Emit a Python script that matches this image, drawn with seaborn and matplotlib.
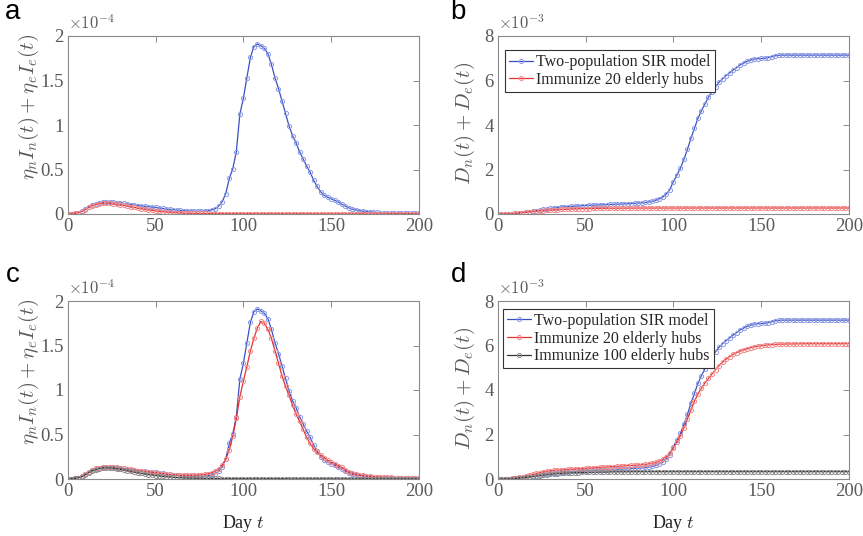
import numpy as np
import matplotlib
matplotlib.use('Agg')
import matplotlib.pyplot as plt
from matplotlib.ticker import FuncFormatter
import seaborn as sns

days = np.arange(0, 201, 2)

# eta_n I_n(t) + eta_e I_e(t), in units of 1e-4
infect_sir = [
    0.005, 0.005, 0.008, 0.015, 0.030, 0.055, 0.080, 0.100, 0.115, 0.125,
    0.132, 0.135, 0.135, 0.132, 0.128, 0.124, 0.118, 0.112, 0.106, 0.100,
    0.095, 0.090, 0.086, 0.082, 0.078, 0.074, 0.068, 0.062, 0.056, 0.052,
    0.048, 0.044, 0.040, 0.037, 0.035, 0.033, 0.032, 0.031, 0.031, 0.033,
    0.038, 0.046, 0.060, 0.090, 0.140, 0.230, 0.400, 0.510, 0.700, 1.120,
    1.300, 1.530, 1.760, 1.880, 1.910, 1.890, 1.860, 1.800, 1.680, 1.530,
    1.410, 1.270, 1.130, 0.990, 0.880, 0.800, 0.700, 0.620, 0.540, 0.470,
    0.380, 0.310, 0.250, 0.210, 0.190, 0.170, 0.155, 0.135, 0.110, 0.090,
    0.070, 0.055, 0.045, 0.038, 0.032, 0.028, 0.024, 0.020, 0.017, 0.015,
    0.013, 0.012, 0.011, 0.010, 0.009, 0.008, 0.008, 0.007, 0.007, 0.006,
    0.006]
infect_imm20_a = [
    0.005, 0.005, 0.008, 0.014, 0.028, 0.050, 0.075, 0.093, 0.106, 0.115,
    0.120, 0.121, 0.119, 0.115, 0.110, 0.104, 0.097, 0.090, 0.082, 0.074,
    0.066, 0.058, 0.051, 0.045, 0.040, 0.035, 0.030, 0.026, 0.022, 0.019,
    0.016, 0.014, 0.012, 0.010, 0.009, 0.008, 0.007, 0.007, 0.006, 0.006,
    0.006, 0.005, 0.005, 0.005, 0.005, 0.004, 0.004, 0.004, 0.004, 0.004,
    0.004, 0.004, 0.004, 0.004, 0.003, 0.003, 0.003, 0.003, 0.003, 0.003,
    0.003, 0.003, 0.003, 0.003, 0.003, 0.003, 0.003, 0.003, 0.003, 0.003,
    0.003, 0.002, 0.002, 0.002, 0.002, 0.002, 0.002, 0.002, 0.002, 0.002,
    0.002, 0.002, 0.002, 0.002, 0.002, 0.002, 0.002, 0.002, 0.002, 0.002,
    0.002, 0.002, 0.002, 0.002, 0.002, 0.002, 0.002, 0.002, 0.002, 0.002,
    0.002]
infect_imm20_c = [
    0.005, 0.005, 0.008, 0.015, 0.030, 0.056, 0.082, 0.103, 0.118, 0.128,
    0.135, 0.138, 0.138, 0.135, 0.130, 0.125, 0.119, 0.113, 0.107, 0.101,
    0.095, 0.089, 0.084, 0.079, 0.074, 0.069, 0.064, 0.059, 0.055, 0.051,
    0.048, 0.045, 0.043, 0.042, 0.041, 0.041, 0.042, 0.044, 0.048, 0.053,
    0.060, 0.072, 0.088, 0.115, 0.160, 0.220, 0.330, 0.480, 0.680, 0.920,
    1.100, 1.260, 1.440, 1.580, 1.700, 1.770, 1.750, 1.680, 1.580, 1.440,
    1.300, 1.160, 1.040, 0.940, 0.830, 0.730, 0.650, 0.560, 0.470, 0.400,
    0.340, 0.300, 0.270, 0.240, 0.210, 0.190, 0.170, 0.150, 0.130, 0.100,
    0.080, 0.065, 0.055, 0.047, 0.040, 0.035, 0.031, 0.028, 0.025, 0.022,
    0.020, 0.018, 0.017, 0.015, 0.014, 0.013, 0.012, 0.011, 0.010, 0.009,
    0.008]
infect_imm100_c = [
    0.004, 0.004, 0.007, 0.013, 0.026, 0.048, 0.072, 0.092, 0.106, 0.116,
    0.122, 0.124, 0.123, 0.120, 0.115, 0.109, 0.102, 0.095, 0.087, 0.079,
    0.071, 0.063, 0.056, 0.050, 0.044, 0.039, 0.034, 0.030, 0.026, 0.023,
    0.020, 0.017, 0.015, 0.013, 0.011, 0.010, 0.009, 0.008, 0.008, 0.007,
    0.007, 0.006, 0.006, 0.006, 0.005, 0.005, 0.005, 0.005, 0.005, 0.004,
    0.004, 0.004, 0.004, 0.004, 0.004, 0.004, 0.004, 0.004, 0.004, 0.004,
    0.004, 0.004, 0.004, 0.003, 0.003, 0.003, 0.003, 0.003, 0.003, 0.003,
    0.003, 0.003, 0.003, 0.003, 0.003, 0.003, 0.003, 0.003, 0.003, 0.003,
    0.003, 0.003, 0.003, 0.003, 0.003, 0.003, 0.003, 0.003, 0.003, 0.003,
    0.002, 0.002, 0.002, 0.002, 0.002, 0.002, 0.002, 0.002, 0.002, 0.002,
    0.002]

# D_n(t) + D_e(t), in units of 1e-3
death_sir = [
    0.000, 0.000, 0.005, 0.010, 0.015, 0.025, 0.040, 0.060, 0.080, 0.100,
    0.120, 0.150, 0.180, 0.210, 0.230, 0.250, 0.270, 0.290, 0.310, 0.320,
    0.330, 0.340, 0.350, 0.360, 0.370, 0.380, 0.390, 0.395, 0.400, 0.410,
    0.415, 0.420, 0.430, 0.435, 0.440, 0.450, 0.455, 0.460, 0.470, 0.480,
    0.490, 0.500, 0.520, 0.540, 0.570, 0.620, 0.680, 0.760, 0.900, 1.100,
    1.450, 1.750, 2.050, 2.450, 2.900, 3.400, 3.850, 4.300, 4.650, 4.950,
    5.250, 5.500, 5.720, 5.920, 6.080, 6.220, 6.340, 6.460, 6.580, 6.700,
    6.780, 6.860, 6.920, 6.960, 6.980, 6.990, 7.000, 7.030, 7.070, 7.110,
    7.130, 7.140, 7.140, 7.140, 7.140, 7.140, 7.140, 7.140, 7.140, 7.140,
    7.140, 7.140, 7.140, 7.140, 7.140, 7.140, 7.140, 7.140, 7.140, 7.140,
    7.140]
death_imm20_b = [
    0.000, 0.000, 0.005, 0.010, 0.020, 0.035, 0.050, 0.065, 0.080, 0.095,
    0.110, 0.125, 0.140, 0.155, 0.170, 0.180, 0.190, 0.200, 0.210, 0.215,
    0.220, 0.225, 0.230, 0.235, 0.240, 0.243, 0.246, 0.249, 0.252, 0.254,
    0.256, 0.258, 0.259, 0.260, 0.261, 0.262, 0.263, 0.264, 0.265, 0.265,
    0.266, 0.266, 0.267, 0.267, 0.267, 0.268, 0.268, 0.268, 0.268, 0.268,
    0.268, 0.269, 0.269, 0.269, 0.269, 0.269, 0.269, 0.269, 0.269, 0.269,
    0.270, 0.270, 0.270, 0.270, 0.270, 0.270, 0.270, 0.270, 0.270, 0.270,
    0.270, 0.270, 0.270, 0.270, 0.270, 0.270, 0.270, 0.270, 0.270, 0.270,
    0.270, 0.270, 0.270, 0.270, 0.270, 0.270, 0.270, 0.270, 0.270, 0.270,
    0.270, 0.270, 0.270, 0.270, 0.270, 0.270, 0.270, 0.270, 0.270, 0.270,
    0.270]
death_imm20_d = [
    0.000, 0.000, 0.005, 0.012, 0.025, 0.045, 0.070, 0.100, 0.130, 0.170,
    0.210, 0.250, 0.290, 0.320, 0.350, 0.370, 0.390, 0.400, 0.410, 0.420,
    0.430, 0.440, 0.450, 0.460, 0.470, 0.480, 0.490, 0.500, 0.510, 0.520,
    0.530, 0.540, 0.550, 0.560, 0.570, 0.580, 0.590, 0.600, 0.610, 0.620,
    0.630, 0.640, 0.660, 0.680, 0.710, 0.750, 0.800, 0.880, 1.000, 1.180,
    1.400, 1.650, 1.950, 2.300, 2.700, 3.100, 3.500, 3.820, 4.080, 4.320,
    4.520, 4.720, 4.920, 5.100, 5.250, 5.380, 5.500, 5.600, 5.680, 5.750,
    5.800, 5.850, 5.900, 5.940, 5.970, 5.990, 6.010, 6.030, 6.040, 6.050,
    6.060, 6.060, 6.065, 6.070, 6.070, 6.075, 6.075, 6.080, 6.080, 6.080,
    6.080, 6.080, 6.080, 6.080, 6.080, 6.080, 6.080, 6.080, 6.080, 6.080,
    6.080]
death_imm100_d = [
    0.000, 0.000, 0.003, 0.008, 0.015, 0.025, 0.040, 0.055, 0.070, 0.090,
    0.110, 0.130, 0.150, 0.170, 0.190, 0.210, 0.225, 0.240, 0.250, 0.260,
    0.270, 0.280, 0.285, 0.290, 0.295, 0.300, 0.303, 0.306, 0.309, 0.312,
    0.314, 0.316, 0.318, 0.320, 0.322, 0.324, 0.325, 0.326, 0.327, 0.328,
    0.329, 0.330, 0.330, 0.330, 0.330, 0.330, 0.330, 0.330, 0.330, 0.330,
    0.330, 0.330, 0.330, 0.330, 0.330, 0.330, 0.330, 0.330, 0.330, 0.330,
    0.330, 0.330, 0.330, 0.330, 0.330, 0.330, 0.330, 0.330, 0.330, 0.330,
    0.330, 0.330, 0.330, 0.330, 0.330, 0.330, 0.330, 0.330, 0.330, 0.330,
    0.330, 0.330, 0.330, 0.330, 0.330, 0.330, 0.330, 0.330, 0.330, 0.330,
    0.330, 0.330, 0.330, 0.330, 0.330, 0.330, 0.330, 0.330, 0.330, 0.330,
    0.330]

labels = ['Two-population SIR model', 'Immunize 20 elderly hubs',
          'Immunize 100 elderly hubs']

# ── style ────────────────────────────────────────────────────────────────────
sns.set_style('white')
plt.rcParams['font.family'] = ['Liberation Serif', 'DejaVu Serif']
plt.rcParams['mathtext.fontset'] = 'cm'
plt.rcParams['font.size'] = 12

GREY_TXT = '#5a5a5a'
GREY_AX = '#8a8a8a'
STYLES = {
    'blue':  dict(color='#3a4fc4', markeredgecolor='#8c9be4'),
    'red':   dict(color='#e5302f', markeredgecolor='#f28a8a'),
    'black': dict(color='#333333', markeredgecolor='#8c8c8c'),
}

fig = plt.figure(figsize=(8.63, 5.36), dpi=100)
W, H = 863, 536


def make_ax(x0, y_top, x1, y_bot):
    return fig.add_axes([x0 / W, 1 - y_bot / H, (x1 - x0) / W, (y_bot - y_top) / H])


ax_a = make_ax(67.7, 36, 419, 214)
ax_b = make_ax(497.7, 36, 849, 214)
ax_c = make_ax(67.7, 301, 419, 479)
ax_d = make_ax(497.7, 301, 849, 479)


def draw(ax, y, style, label=None):
    sns.lineplot(x=days, y=y, ax=ax, marker='o', markersize=3,
                 markerfacecolor='none', markeredgewidth=0.7,
                 linewidth=0.9, label=label, **STYLES[style])


def style_axes(ax, ymax, yticks, expo, ylabel, xlabel, ylab_pos):
    ax.set_xlim(0, 200)
    ax.set_ylim(0, ymax)
    ax.set_xticks([0, 50, 100, 150, 200])
    ax.set_yticks(yticks)
    ax.yaxis.set_major_formatter(FuncFormatter(lambda v, p: f'{v:g}'))
    ax.tick_params(direction='in', top=True, right=True, length=4, width=0.7,
                   colors=GREY_AX, labelcolor=GREY_TXT, labelsize=13.5, pad=3)
    for s in ax.spines.values():
        s.set_color(GREY_AX)
        s.set_linewidth(0.8)
    ax.set_ylabel(ylabel, color=GREY_TXT, fontsize=15)
    ax.yaxis.set_label_coords(*ylab_pos)
    if xlabel:
        ax.set_xlabel('Day $t$', color='#222222', fontsize=13, labelpad=9)
    else:
        ax.set_xlabel('')
    ax.text(0.0, 1.015, r'$\times10^{' + expo + '}$', transform=ax.transAxes,
            ha='left', va='bottom', color=GREY_TXT, fontsize=12)


ylab_i = r'$\eta_n I_n(t)+\eta_e I_e(t)$'
ylab_d = r'$D_n(t)+D_e(t)$'

# a
draw(ax_a, infect_sir, 'blue')
draw(ax_a, infect_imm20_a, 'red')
style_axes(ax_a, 2, [0, 0.5, 1, 1.5, 2], '-4', ylab_i, False, (-0.075, 0.6))

# b
draw(ax_b, death_sir, 'blue', labels[0])
draw(ax_b, death_imm20_b, 'red', labels[1])
style_axes(ax_b, 8, [0, 2, 4, 6, 8], '-3', ylab_d, False, (-0.06, 0.51))

# c
draw(ax_c, infect_sir, 'blue')
draw(ax_c, infect_imm20_c, 'red')
draw(ax_c, infect_imm100_c, 'black')
style_axes(ax_c, 2, [0, 0.5, 1, 1.5, 2], '-4', ylab_i, True, (-0.075, 0.6))

# d
draw(ax_d, death_sir, 'blue', labels[0])
draw(ax_d, death_imm20_d, 'red', labels[1])
draw(ax_d, death_imm100_d, 'black', labels[2])
style_axes(ax_d, 8, [0, 2, 4, 6, 8], '-3', ylab_d, True, (-0.06, 0.51))

for ax, anchor in [(ax_b, (0.021, 0.92)), (ax_d, (0.015, 0.955))]:
    leg = ax.legend(loc='upper left', bbox_to_anchor=anchor, borderaxespad=0,
                    fancybox=False, framealpha=1, edgecolor='#333333',
                    fontsize=11.5, handlelength=1.5, handletextpad=0.2,
                    borderpad=0.25, labelspacing=0.1, numpoints=1)
    leg.get_frame().set_linewidth(0.8)

# panel letters
for letter, x, y in [('a', 5, 19), ('b', 450, 19), ('c', 6, 282), ('d', 451, 282)]:
    fig.text(x / W, 1 - y / H, letter, ha='left', va='baseline',
             fontsize=20, family='Liberation Sans', color='black')

fig.savefig('out.png', dpi=100)
